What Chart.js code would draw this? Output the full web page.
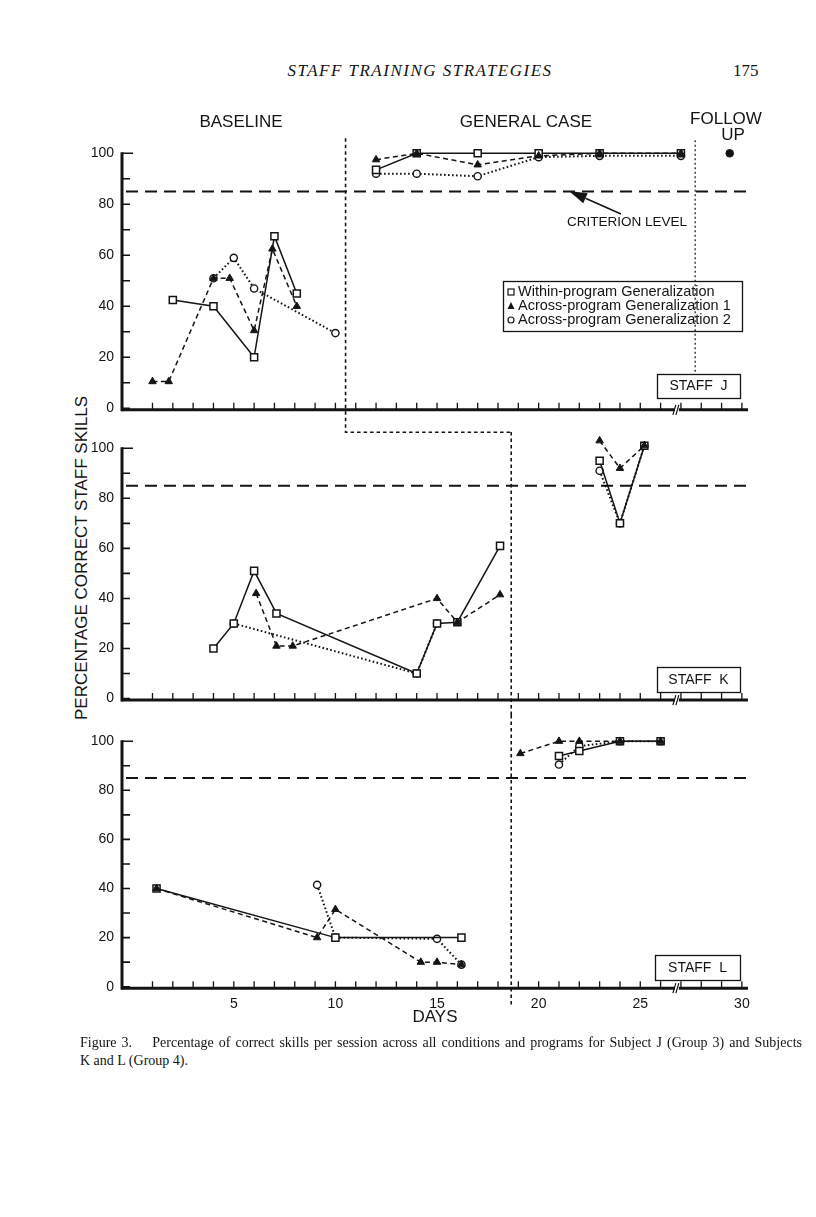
<!DOCTYPE html>
<html>
<head>
<meta charset="utf-8">
<script src="https://cdn.jsdelivr.net/npm/chart.js@4.4.1/dist/chart.umd.min.js"></script>
<style>
html,body{margin:0;padding:0;background:#fff;}
#page{position:relative;width:816px;height:1217px;overflow:hidden;background:#fff;}
canvas{position:absolute;left:0;}
.serif{position:absolute;font-family:"Liberation Serif","Times New Roman",serif;color:#141414;white-space:nowrap;}
#ytitle{position:absolute;width:400px;height:20px;line-height:20px;left:-118px;top:548px;transform:rotate(-90deg);text-align:center;font-family:"Liberation Sans",Arial,sans-serif;font-size:17px;color:#141414;}
</style>
</head>
<body>
<div id="page">
  <div class="serif" style="left:0;width:840px;top:61px;text-align:center;font-style:italic;font-size:17px;letter-spacing:1.5px;">STAFF TRAINING STRATEGIES</div>
  <div class="serif" style="left:733px;top:61px;font-size:17px;">175</div>
  <div id="ytitle">PERCENTAGE CORRECT STAFF SKILLS</div>
  <canvas id="cJ" width="816" height="350" style="top:90px"></canvas>
  <canvas id="cK" width="816" height="300" style="top:415px"></canvas>
  <canvas id="cL" width="816" height="313" style="top:715px"></canvas>
  <div class="serif" style="left:80px;top:1034px;width:722px;font-size:14px;line-height:18px;text-align:justify;text-align-last:justify;">Figure 3.&nbsp;&nbsp;&nbsp; Percentage of correct skills per session across all conditions and programs for Subject J (Group 3) and Subjects</div>
  <div class="serif" style="left:80px;top:1052px;font-size:14px;line-height:18px;">K and L (Group 4).</div>
</div>
<script>
// ---------- axis / tick data ----------
const xTickLabels = [5, 10, 15, 20, 25, 30];
const yTickValues = [0, 20, 40, 60, 80, 100];
const criterion = 85;
const phaseJ = 10.5, phaseKL = 18.65, followJ = 27.7, breakDay = 26.8;

// ---------- Staff J ----------
const jSqDays  = [2, 4, 6, 7, 8.1, 10.5, 12, 14, 17, 20, 23, 27];
const jSqVals  = [42.5, 40, 20, 67.5, 45, null, 93.5, 100, 100, 100, 100, 100];
const jTriDays = [1, 1.8, 4, 4.8, 6, 6.9, 8.1, 10.5, 12, 14, 17, 20, 23, 27];
const jTriVals = [10.5, 10.5, 51, 51, 30.5, 62.5, 40, null, 97.5, 100, 95.5, 99, 100, 100];
const jCirDays = [4, 5, 6, 10, 10.5, 12, 14, 17, 20, 23, 27];
const jCirVals = [51, 59, 47, 29.5, null, 92, 92, 91, 98.5, 99, 99];
const jFollowDays = [29.4];
const jFollowVals = [100];

// ---------- Staff K ----------
const kSqDays  = [4, 5, 6, 7.1, 14, 15, 16, 18.1, 18.65, 23, 24, 25.2];
const kSqVals  = [20, 30, 51, 34, 10, 30, 30.5, 61, null, 95, 70, 101];
const kTriDays = [6.1, 7.1, 7.9, 15, 16, 18.1, 18.65, 23, 24, 25.2];
const kTriVals = [42, 21, 21, 40, 30.5, 41.5, null, 103, 92, 101];
const kCirDays = [5, 14, 15, 18.65, 23, 24, 25.2];
const kCirVals = [30, 10, 30, null, 91, 70, 101];

// ---------- Staff L ----------
const lSqDays  = [1.2, 10, 16.2, 18.65, 21, 22, 24, 26];
const lSqVals  = [40, 20, 20, null, 94, 96, 100, 100];
const lTriDays = [1.2, 9.1, 10, 14.2, 15, 16.2, 18.65, 19.1, 21, 22, 24, 26];
const lTriVals = [40, 20, 31.5, 10, 10, 9, null, 95, 100, 100, 100, 100];
const lCirDays = [9.1, 10, 15, 16.2, 18.65, 21, 22, 24, 26];
const lCirVals = [41.5, 20, 19.5, 9, null, 90.5, 98, 100, 100];

const FONT = '"Liberation Sans", Arial, sans-serif';
const INK = '#141414';
const xMin = -0.5, xMax = 30.3;
const yMin = 0, yMax = 104;

function pts(days, vals) { return days.map((d, i) => ({x: d, y: vals[i]})); }

function series(kind, days, vals) {
  const ds = {data: pts(days, vals), clip: false, tension: 0, spanGaps: false,
    borderColor: INK, pointBorderColor: INK, pointHoverRadius: 0, fill: false};
  if (kind === 'sq') Object.assign(ds, {label: 'Within-program Generalization', borderWidth: 1.5, borderDash: [],
    pointStyle: 'rect', pointRadius: 5, pointBackgroundColor: '#fff', pointBorderWidth: 1.5, order: 1});
  if (kind === 'tri') Object.assign(ds, {label: 'Across-program Generalization 1', borderWidth: 1.5, borderDash: [5, 3.5],
    pointStyle: 'triangle', pointRadius: 4.3, pointBackgroundColor: INK, pointBorderWidth: 1, order: 0});
  if (kind === 'cir') Object.assign(ds, {label: 'Across-program Generalization 2', borderWidth: 2, borderDash: [1.6, 2.4],
    pointStyle: 'circle', pointRadius: 3.6, pointBackgroundColor: '#fff', pointBorderWidth: 1.4, order: 2});
  if (kind === 'follow') Object.assign(ds, {label: 'Follow up', showLine: false,
    pointStyle: 'circle', pointRadius: 3.8, pointBackgroundColor: INK, pointBorderWidth: 1, order: 0});
  return ds;
}

function box(ctx, x, y, w, h) { ctx.lineWidth = 1.3; ctx.strokeRect(x + 0.5, y + 0.5, w, h); }

function decor(panel, canvasTop) {
  const P = y => y - canvasTop;
  return {
    id: 'decor' + panel,
    beforeDatasetsDraw(chart) {
      const {ctx, chartArea: ca} = chart;
      const xs = chart.scales.x, ys = chart.scales.y;
      const X = d => xs.getPixelForValue(d), Y = v => ys.getPixelForValue(v);
      const top100 = Y(100);
      ctx.save();
      ctx.strokeStyle = INK; ctx.fillStyle = INK;
      // criterion level
      ctx.lineWidth = 2; ctx.setLineDash([12, 7]);
      ctx.beginPath(); ctx.moveTo(ca.left + 4, Y(criterion)); ctx.lineTo(ca.right, Y(criterion)); ctx.stroke();
      // phase change lines
      ctx.lineWidth = 1.6; ctx.setLineDash([3.5, 3]);
      ctx.beginPath();
      if (panel === 'J') { ctx.moveTo(X(phaseJ), top100 - 15); ctx.lineTo(X(phaseJ), ca.bottom + 24); ctx.lineTo(X(phaseKL), ca.bottom + 24); }
      if (panel === 'K') { ctx.moveTo(X(phaseKL), top100 - 16.3); ctx.lineTo(X(phaseKL), chart.height); }
      if (panel === 'L') { ctx.moveTo(X(phaseKL), 0); ctx.lineTo(X(phaseKL), ca.bottom + 18); }
      ctx.stroke();
      if (panel === 'J') {
        ctx.lineWidth = 1.2; ctx.setLineDash([2, 2.5]);
        ctx.beginPath(); ctx.moveTo(X(followJ), top100 - 13); ctx.lineTo(X(followJ), Y(13.5)); ctx.stroke();
      }
      ctx.setLineDash([]);
      // y axis
      const y0 = Y(0) + 1.5;
      ctx.lineWidth = 3;
      ctx.beginPath(); ctx.moveTo(ca.left, top100 - 1); ctx.lineTo(ca.left, y0 + 1.5); ctx.stroke();
      ctx.lineWidth = 1.6;
      ctx.beginPath();
      for (let v = 0; v <= 100; v += 10) { ctx.moveTo(ca.left, Y(v)); ctx.lineTo(ca.left + (v === 100 ? 11 : 8), Y(v)); }
      ctx.stroke();
      // x axis
      ctx.lineWidth = 3;
      ctx.beginPath(); ctx.moveTo(ca.left, y0); ctx.lineTo(ca.right, y0); ctx.stroke();
      ctx.lineWidth = 1.3;
      ctx.beginPath();
      for (let d = 1; d <= 30; d++) { ctx.moveTo(X(d), y0); ctx.lineTo(X(d), y0 - 7); }
      ctx.stroke();
      // axis break
      const xb = X(breakDay);
      ctx.fillStyle = '#fff'; ctx.fillRect(xb - 2, y0 - 3, 4, 6);
      ctx.lineWidth = 1.2; ctx.beginPath();
      ctx.moveTo(xb - 4, y0 + 5); ctx.lineTo(xb - 1, y0 - 5);
      ctx.moveTo(xb - 1, y0 + 5); ctx.lineTo(xb + 2, y0 - 5);
      ctx.stroke();
      ctx.restore();
    },
    afterDatasetsDraw(chart) {
      const {ctx} = chart;
      ctx.save();
      ctx.strokeStyle = INK; ctx.fillStyle = INK;
      ctx.textBaseline = 'middle';
      if (panel === 'J') {
        ctx.font = '17px ' + FONT; ctx.textAlign = 'center';
        ctx.fillText('BASELINE', 241, P(122));
        ctx.fillText('GENERAL CASE', 526, P(122));
        ctx.fillText('FOLLOW', 726, P(119));
        ctx.fillText('UP', 733, P(135));
        // legend
        box(ctx, 503, P(281), 239, 50);
        ctx.font = '14.5px ' + FONT; ctx.textAlign = 'left';
        const rows = [P(292), P(306), P(320)];
        ctx.fillText('Within-program Generalization', 518, rows[0]);
        ctx.fillText('Across-program Generalization 1', 518, rows[1]);
        ctx.fillText('Across-program Generalization 2', 518, rows[2]);
        ctx.lineWidth = 1.2;
        ctx.strokeRect(508, rows[0] - 3, 6, 6);
        ctx.beginPath(); ctx.moveTo(511, rows[1] - 4); ctx.lineTo(514.5, rows[1] + 3); ctx.lineTo(507.5, rows[1] + 3); ctx.closePath(); ctx.fill();
        ctx.beginPath(); ctx.arc(511, rows[2], 3, 0, Math.PI * 2); ctx.stroke();
        // criterion label + arrow
        ctx.font = '13.5px ' + FONT;
        ctx.fillText('CRITERION LEVEL', 567, P(222));
        const tip = [569, P(191)], tail = [621, P(214)];
        const ang = Math.atan2(tail[1] - tip[1], tail[0] - tip[0]);
        const hl = 18, hw = 5.5;
        const bx = tip[0] + hl * Math.cos(ang), by = tip[1] + hl * Math.sin(ang);
        ctx.lineWidth = 1.5;
        ctx.beginPath(); ctx.moveTo(bx, by); ctx.lineTo(tail[0], tail[1]); ctx.stroke();
        ctx.beginPath(); ctx.moveTo(tip[0], tip[1]);
        ctx.lineTo(bx - hw * Math.sin(ang), by + hw * Math.cos(ang));
        ctx.lineTo(bx + hw * Math.sin(ang), by - hw * Math.cos(ang));
        ctx.closePath(); ctx.fill();
        // staff box
        box(ctx, 657, P(374), 83, 24);
        ctx.font = '14px ' + FONT; ctx.textAlign = 'center';
        ctx.fillText('STAFF  J', 698.5, P(386.5));
      }
      if (panel === 'K') {
        box(ctx, 657, P(667), 83, 25);
        ctx.font = '14px ' + FONT; ctx.textAlign = 'center';
        ctx.fillText('STAFF  K', 698.5, P(680));
      }
      if (panel === 'L') {
        box(ctx, 655, P(955), 85, 25);
        ctx.font = '14px ' + FONT; ctx.textAlign = 'center';
        ctx.fillText('STAFF  L', 697.5, P(968));
      }
      ctx.restore();
    }
  };
}

function makeChart(id, panel, canvasTop, padTop, padBottom, datasets) {
  const showX = panel === 'L';
  return new Chart(document.getElementById(id), {
    type: 'line',
    data: {datasets},
    options: {
      responsive: false, animation: false, events: [],
      layout: {autoPadding: false, padding: {left: 82, right: 68, top: padTop, bottom: padBottom}},
      plugins: {legend: {display: false}, tooltip: {enabled: false}},
      scales: {
        x: {type: 'linear', min: xMin, max: xMax, display: showX,
          grid: {display: false, drawTicks: false}, border: {display: false},
          afterBuildTicks: s => { s.ticks = xTickLabels.map(v => ({value: v})); },
          ticks: {font: {family: FONT, size: 14}, color: INK, padding: 9, maxRotation: 0, autoSkip: false},
          title: {display: showX, text: 'DAYS', font: {family: FONT, size: 17}, color: INK, padding: 0},
          afterFit: s => { s.height = showX ? 41.3 : 0; }
        },
        y: {type: 'linear', min: yMin, max: yMax,
          grid: {display: false, drawTicks: false}, border: {display: false},
          afterBuildTicks: s => { s.ticks = yTickValues.map(v => ({value: v})); },
          ticks: {font: {family: FONT, size: 14}, color: INK, padding: 8},
          afterFit: s => { s.width = 40; }
        }
      }
    },
    plugins: [decor(panel, canvasTop)]
  });
}

makeChart('cJ', 'J', 90, 53.1, 31.7, [
  series('tri', jTriDays, jTriVals), series('sq', jSqDays, jSqVals), series('cir', jCirDays, jCirVals),
  series('follow', jFollowDays, jFollowVals)
]);
makeChart('cK', 'K', 415, 23.2, 14, [
  series('tri', kTriDays, kTriVals), series('sq', kSqDays, kSqVals), series('cir', kCirDays, kCirVals)
]);
makeChart('cL', 'L', 715, 15.1, 0, [
  series('tri', lTriDays, lTriVals), series('sq', lSqDays, lSqVals), series('cir', lCirDays, lCirVals)
]);
</script>
</body>
</html>
